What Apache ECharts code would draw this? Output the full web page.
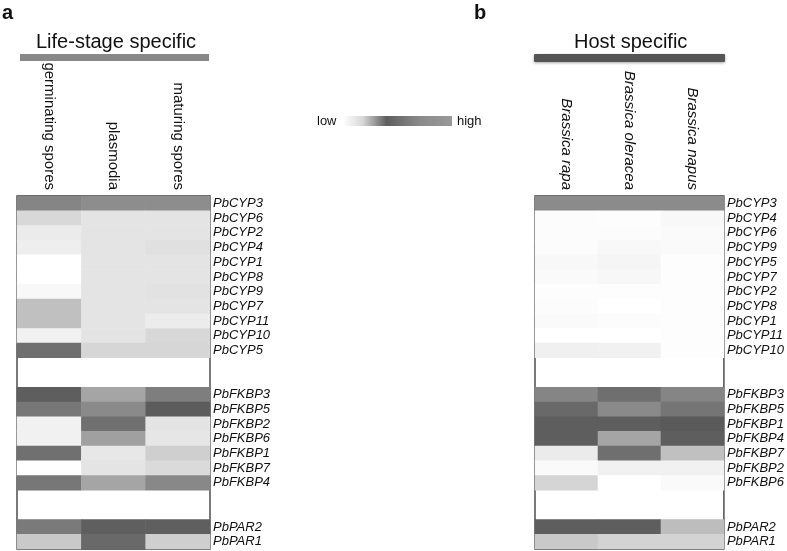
<!DOCTYPE html>
<html>
<head>
<meta charset="utf-8">
<script src="https://cdn.jsdelivr.net/npm/echarts@6/dist/echarts.min.js"></script>
<style>
  html, body { margin: 0; padding: 0; background: #fff; }
  #chart { width: 787px; height: 551px; }
</style>
</head>
<body>
<div id="chart"></div>
<script>
// column categories
const stageCols = ['germinating spores', 'plasmodia', 'maturing spores']
const hostCols = ['Brassica rapa', 'Brassica oleracea', 'Brassica napus']

// row categories ('_' rows are the empty gaps between gene families)
const stageRows = ['PbCYP3', 'PbCYP6', 'PbCYP2', 'PbCYP4', 'PbCYP1', 'PbCYP8', 'PbCYP9', 'PbCYP7', 'PbCYP11', 'PbCYP10', 'PbCYP5',
  '_1', '_2',
  'PbFKBP3', 'PbFKBP5', 'PbFKBP2', 'PbFKBP6', 'PbFKBP1', 'PbFKBP7', 'PbFKBP4',
  '_3', '_4',
  'PbPAR2', 'PbPAR1']
const hostRows = ['PbCYP3', 'PbCYP4', 'PbCYP6', 'PbCYP9', 'PbCYP5', 'PbCYP7', 'PbCYP2', 'PbCYP8', 'PbCYP1', 'PbCYP11', 'PbCYP10',
  '_1', '_2',
  'PbFKBP3', 'PbFKBP5', 'PbFKBP1', 'PbFKBP4', 'PbFKBP7', 'PbFKBP2', 'PbFKBP6',
  '_3', '_4',
  'PbPAR2', 'PbPAR1']

// relative expression (0 = low, 100 = high), one array per row, null for gap rows
const stageValues = [
  [72, 67, 67], [23, 16, 16], [12, 16, 16], [10, 16, 18], [0, 16, 16], [0, 16, 16],
  [4, 16, 17], [37, 16, 16], [37, 16, 11], [8, 16, 23], [85, 24, 24],
  null, null,
  [95, 53, 76], [80, 69, 96], [8, 84, 16], [8, 56, 15], [84, 14, 28], [0, 16, 22], [80, 53, 70],
  null, null,
  [78, 94, 94], [32, 88, 28]
]
const hostValues = [
  [68, 68, 68], [2, 1, 4], [2, 2, 3], [2, 4, 3], [4, 6, 1], [3, 5, 1],
  [1, 1, 1], [2, 0, 1], [3, 2, 1], [0, 0, 1], [9, 8, 1],
  null, null,
  [72, 85, 72], [88, 69, 81], [95, 95, 97], [95, 53, 95], [12, 85, 37], [3, 8, 8], [25, 0, 3],
  null, null,
  [95, 95, 39], [32, 26, 26]
]

const font = '"Liberation Sans", Arial, sans-serif'

function toCells(values) {
  const out = []
  values.forEach((row, y) => {
    if (!row) return
    row.forEach((v, x) => out.push([x, y, v]))
  })
  return out
}

function xAxisFor(idx, cols, italic) {
  return {
    type: 'category',
    gridIndex: idx,
    data: cols,
    position: 'top',
    axisLine: { show: false },
    axisTick: { show: false },
    splitLine: { show: false },
    axisLabel: {
      rotate: 90,
      margin: 6,
      fontSize: 15,
      fontFamily: font,
      fontStyle: italic ? 'italic' : 'normal',
      color: '#111',
      interval: 0
    }
  }
}

function yAxisFor(idx, rows) {
  return {
    type: 'category',
    gridIndex: idx,
    data: rows,
    inverse: true,
    position: 'right',
    axisLine: { show: false },
    axisTick: { show: false },
    splitLine: { show: false },
    axisLabel: {
      margin: 3,
      fontSize: 13,
      fontFamily: font,
      fontStyle: 'italic',
      color: '#111',
      interval: 0,
      formatter: (v) => (v.charAt(0) === '_' ? '' : v)
    }
  }
}

const chart = echarts.init(document.getElementById('chart'), null, { renderer: 'canvas' })

const option = {
  backgroundColor: '#fff',
  animation: false,
  grid: [
    { left: 17, top: 196, width: 193, height: 353, show: true, borderColor: '#333', borderWidth: 1.3, backgroundColor: '#fff' },
    { left: 535, top: 196, width: 189, height: 353, show: true, borderColor: '#333', borderWidth: 1.3, backgroundColor: '#fff' }
  ],
  xAxis: [xAxisFor(0, stageCols, false), xAxisFor(1, hostCols, true)],
  yAxis: [yAxisFor(0, stageRows), yAxisFor(1, hostRows)],
  visualMap: {
    show: false,
    type: 'continuous',
    min: 0,
    max: 100,
    seriesIndex: [0, 1],
    inRange: { color: ['#ffffff', '#555555'] }
  },
  series: [
    {
      type: 'heatmap',
      xAxisIndex: 0,
      yAxisIndex: 0,
      data: toCells(stageValues),
      emphasis: { disabled: true }
    },
    {
      type: 'heatmap',
      xAxisIndex: 1,
      yAxisIndex: 1,
      data: toCells(hostValues),
      emphasis: { disabled: true }
    }
  ],
  graphic: [
    { type: 'text', left: 2, top: 3, style: { text: 'a', font: 'bold 20px ' + font, fill: '#111' } },
    { type: 'text', left: 474, top: 3, style: { text: 'b', font: 'bold 20px ' + font, fill: '#111' } },
    // header titles and bars
    { type: 'text', left: 36, top: 32, style: { text: 'Life-stage specific', font: '20px ' + font, fill: '#111' } },
    { type: 'rect', shape: { x: 20, y: 54, width: 189, height: 7 }, style: { fill: '#888888' } },
    { type: 'text', left: 574, top: 32, style: { text: 'Host specific', font: '20px ' + font, fill: '#111' } },
    {
      type: 'rect',
      shape: { x: 534, y: 54, width: 191, height: 8, r: 1 },
      style: { fill: '#555555', shadowBlur: 3, shadowColor: 'rgba(0,0,0,0.35)', shadowOffsetY: 1 }
    },
    // low/high legend
    { type: 'text', left: 317, top: 115, style: { text: 'low', font: '13px ' + font, fill: '#111' } },
    {
      type: 'rect',
      shape: { x: 343, y: 116, width: 109, height: 10 },
      style: {
        fill: new echarts.graphic.LinearGradient(0, 0, 1, 0, [
          { offset: 0, color: '#ffffff' },
          { offset: 0.18, color: '#d8d8d8' },
          { offset: 0.4, color: '#5e5e5e' },
          { offset: 0.7, color: '#8a8a8a' },
          { offset: 1, color: '#999999' }
        ])
      }
    },
    { type: 'text', left: 457, top: 115, style: { text: 'high', font: '13px ' + font, fill: '#111' } }
  ]
}

chart.setOption(option)
</script>
</body>
</html>
